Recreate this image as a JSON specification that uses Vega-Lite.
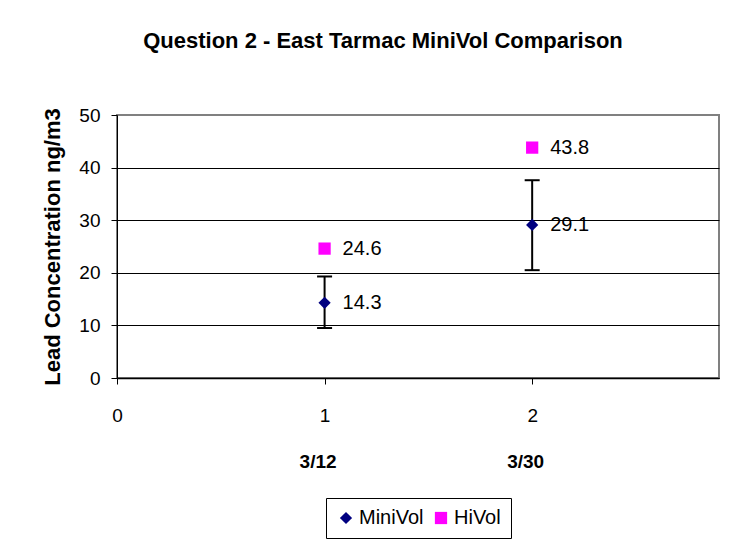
{
  "$schema": "https://vega.github.io/schema/vega-lite/v6.json",
  "width": 602,
  "height": 263,
  "autosize": {"type": "none"},
  "padding": {"left": 117, "top": 115, "right": 25, "bottom": 167},
  "background": "white",
  "title": {
    "text": "Question 2 - East Tarmac MiniVol Comparison",
    "font": "Liberation Sans",
    "fontSize": 22,
    "fontWeight": "bold",
    "color": "black",
    "anchor": "middle",
    "frame": "group",
    "dx": -35,
    "offset": 36,
    "baseline": "alphabetic"
  },
  "data": {
    "values": [
      {"idx": 1, "date": "3/12", "series": "MiniVol", "value": 14.3, "low": 9.5, "high": 19.3},
      {"idx": 1, "date": "3/12", "series": "HiVol", "value": 24.6},
      {"idx": 2, "date": "3/30", "series": "MiniVol", "value": 29.1, "low": 20.5, "high": 37.6},
      {"idx": 2, "date": "3/30", "series": "HiVol", "value": 43.8}
    ]
  },
  "config": {
    "font": "Liberation Sans",
    "view": {"stroke": "#808080", "strokeWidth": 2},
    "axis": {"labelFont": "Liberation Sans", "titleFont": "Liberation Sans"},
    "legend": {"labelFont": "Liberation Sans"}
  },
  "resolve": {"axis": {"x": "independent"}},
  "layer": [
    {
      "transform": [{"filter": "datum.series == 'MiniVol'"}],
      "mark": {"type": "rule", "color": "black", "strokeWidth": 2},
      "encoding": {
        "x": {"field": "idx", "type": "quantitative", "scale": {"domain": [0, 2.9], "nice": false, "zero": false}, "axis": null},
        "y": {"field": "low", "type": "quantitative", "scale": {"domain": [0, 50], "nice": false},
          "axis": {"values": [0, 10, 20, 30, 40, 50], "title": "Lead Concentration ng/m3", "titleFontSize": 22, "titleFontWeight": "bold", "titleColor": "black", "titleAngle": 270, "titleX": -58, "titleY": 131.5, "titleAlign": "center", "titleBaseline": "alphabetic", "labelFontSize": 19, "labelColor": "black", "labelPadding": 11, "tickSize": 6, "tickColor": "black", "domainColor": "black", "gridColor": {"condition": {"test": "datum.value >= 50", "value": "#808080"}, "value": "#000000"}, "gridOpacity": 1, "labelFlush": false, "labelOverlap": false}},
        "y2": {"field": "high"}
      }
    },
    {
      "transform": [{"filter": "datum.series == 'MiniVol'"}],
      "mark": {"type": "tick", "orient": "horizontal", "size": 15, "thickness": 2, "color": "black", "opacity": 1},
      "encoding": {
        "x": {"field": "idx", "type": "quantitative", "scale": {"domain": [0, 2.9], "nice": false, "zero": false}, "axis": null},
        "y": {"field": "low", "type": "quantitative", "scale": {"domain": [0, 50], "nice": false},
          "axis": {"values": [0, 10, 20, 30, 40, 50], "title": "Lead Concentration ng/m3", "titleFontSize": 22, "titleFontWeight": "bold", "titleColor": "black", "titleAngle": 270, "titleX": -58, "titleY": 131.5, "titleAlign": "center", "titleBaseline": "alphabetic", "labelFontSize": 19, "labelColor": "black", "labelPadding": 11, "tickSize": 6, "tickColor": "black", "domainColor": "black", "gridColor": {"condition": {"test": "datum.value >= 50", "value": "#808080"}, "value": "#000000"}, "gridOpacity": 1, "labelFlush": false, "labelOverlap": false}}
      }
    },
    {
      "transform": [{"filter": "datum.series == 'MiniVol'"}],
      "mark": {"type": "tick", "orient": "horizontal", "size": 15, "thickness": 2, "color": "black", "opacity": 1},
      "encoding": {
        "x": {"field": "idx", "type": "quantitative", "scale": {"domain": [0, 2.9], "nice": false, "zero": false}, "axis": null},
        "y": {"field": "high", "type": "quantitative", "scale": {"domain": [0, 50], "nice": false},
          "axis": {"values": [0, 10, 20, 30, 40, 50], "title": "Lead Concentration ng/m3", "titleFontSize": 22, "titleFontWeight": "bold", "titleColor": "black", "titleAngle": 270, "titleX": -58, "titleY": 131.5, "titleAlign": "center", "titleBaseline": "alphabetic", "labelFontSize": 19, "labelColor": "black", "labelPadding": 11, "tickSize": 6, "tickColor": "black", "domainColor": "black", "gridColor": {"condition": {"test": "datum.value >= 50", "value": "#808080"}, "value": "#000000"}, "gridOpacity": 1, "labelFlush": false, "labelOverlap": false}}
      }
    },
    {
      "mark": {"type": "point", "filled": true, "opacity": 1, "size": 150},
      "encoding": {
        "x": {"field": "idx", "type": "quantitative", "scale": {"domain": [0, 2.9], "nice": false, "zero": false},
          "axis": {"orient": "bottom", "values": [0, 1, 2], "title": null, "format": "d", "labelFontSize": 19, "labelColor": "black", "labelPadding": 22, "tickSize": 6, "tickColor": "black", "domainColor": "black", "domainWidth": 1.5, "grid": false, "labelFlush": false, "labelOverlap": false}},
        "y": {"field": "value", "type": "quantitative", "scale": {"domain": [0, 50], "nice": false},
          "axis": {"values": [0, 10, 20, 30, 40, 50], "title": "Lead Concentration ng/m3", "titleFontSize": 22, "titleFontWeight": "bold", "titleColor": "black", "titleAngle": 270, "titleX": -58, "titleY": 131.5, "titleAlign": "center", "titleBaseline": "alphabetic", "labelFontSize": 19, "labelColor": "black", "labelPadding": 11, "tickSize": 6, "tickColor": "black", "domainColor": "black", "gridColor": {"condition": {"test": "datum.value >= 50", "value": "#808080"}, "value": "#000000"}, "gridOpacity": 1, "labelFlush": false, "labelOverlap": false}},
        "color": {"field": "series", "type": "nominal",
          "scale": {"domain": ["MiniVol", "HiVol"], "range": ["#000080", "#FF00FF"]},
          "legend": {"title": null, "orient": "none", "legendX": 209, "legendY": 383, "direction": "horizontal", "strokeColor": "black", "fillColor": "white", "padding": 10, "labelFontSize": 20, "labelColor": "black", "symbolSize": 150, "labelOffset": 3, "columnPadding": 7}},
        "shape": {"field": "series", "type": "nominal",
          "scale": {"domain": ["MiniVol", "HiVol"], "range": ["diamond", "square"]},
          "legend": {"title": null, "orient": "none", "legendX": 209, "legendY": 383, "direction": "horizontal", "strokeColor": "black", "fillColor": "white", "padding": 10, "labelFontSize": 20, "labelColor": "black", "symbolSize": 150, "labelOffset": 3, "columnPadding": 7}}
      }
    },
    {
      "mark": {"type": "text", "align": "left", "baseline": "middle", "dx": 18, "fontSize": 20, "color": "black"},
      "encoding": {
        "x": {"field": "idx", "type": "quantitative", "scale": {"domain": [0, 2.9], "nice": false, "zero": false},
          "axis": {"orient": "bottom", "values": [1, 2], "labelExpr": "datum.value == 1 ? '3/12' : (datum.value == 2 ? '3/30' : '')", "title": null, "domain": false, "ticks": false, "grid": false, "labelFontSize": 19, "labelFontWeight": "bold", "labelColor": "black", "labelPadding": 74, "labelOffset": -7, "labelFlush": false, "labelOverlap": false}},
        "y": {"field": "value", "type": "quantitative", "scale": {"domain": [0, 50], "nice": false},
          "axis": {"values": [0, 10, 20, 30, 40, 50], "title": "Lead Concentration ng/m3", "titleFontSize": 22, "titleFontWeight": "bold", "titleColor": "black", "titleAngle": 270, "titleX": -58, "titleY": 131.5, "titleAlign": "center", "titleBaseline": "alphabetic", "labelFontSize": 19, "labelColor": "black", "labelPadding": 11, "tickSize": 6, "tickColor": "black", "domainColor": "black", "gridColor": {"condition": {"test": "datum.value >= 50", "value": "#808080"}, "value": "#000000"}, "gridOpacity": 1, "labelFlush": false, "labelOverlap": false}},
        "text": {"field": "value", "type": "quantitative", "format": ".1f"}
      }
    }
  ]
}
